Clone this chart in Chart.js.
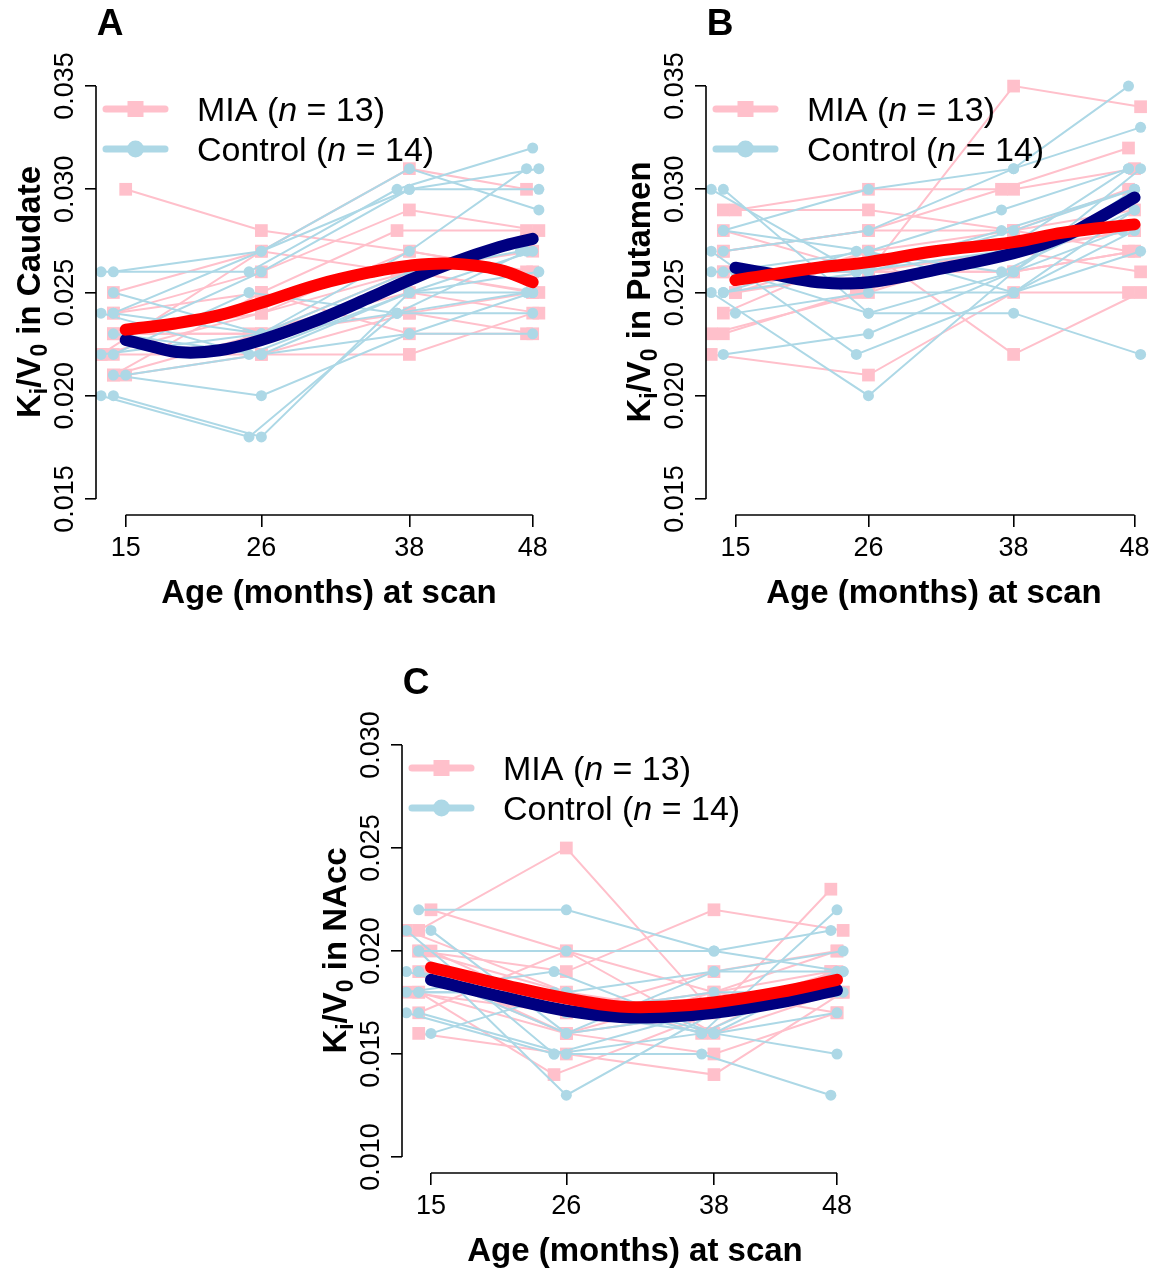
<!DOCTYPE html>
<html><head><meta charset="utf-8">
<script src="https://cdn.jsdelivr.net/npm/chart.js@4.4.1/dist/chart.umd.min.js"></script>
<style>
html,body{margin:0;padding:0;background:#fff;}
body{width:1171px;height:1273px;position:relative;overflow:hidden;}
canvas{position:absolute;}
</style></head><body>
<canvas id="cA" width="585" height="625" style="left:0;top:0;width:585px;height:625px"></canvas>
<canvas id="cB" width="561" height="625" style="left:610px;top:0;width:561px;height:625px"></canvas>
<canvas id="cC" width="585" height="613" style="left:306px;top:660px;width:585px;height:613px"></canvas>
<script>
// ---------- DATA ----------
const xTicks = [15, 26, 38, 48];
const yTicksAB = [0.015, 0.020, 0.025, 0.030, 0.035];
const yTickLabelsAB = ['0.015', '0.020', '0.025', '0.030', '0.035'];
const yTicksC = [0.010, 0.015, 0.020, 0.025, 0.030];
const yTickLabelsC = ['0.010', '0.015', '0.020', '0.025', '0.030'];
const legendMIA = ['MIA (', 'n', ' = 13)'];
const legendControl = ['Control (', 'n', ' = 14)'];
const xTitle = 'Age (months) at scan';

// ages (months) at each of the four scans, per subject
const agesMIA = [
  [15, 26, 38, 48], [14, 26, 38, 47.5], [14, 26, 38, 48.5], [14, 26, 37, 47.5],
  [15, 26, 38, 48], [14, 25, 38, 48.5], [13, 26, 38, 47.5], [14, 26, 38, 48],
  [14, 26, 38, 48.5], [15, 26, 38, 48], [14, 26, 38, 47.5], [13, 26, 37, 48],
  [14, 26, 38, 48]
];
const agesControl = [
  [14, 26, 38, 48.5], [13, 25, 37, 48], [14, 26, 38, 47.5], [14, 26, 38, 48.5],
  [13, 25, 38, 48], [14, 26, 37, 47.5], [15, 26, 38, 48.5], [14, 26, 38, 48],
  [13, 26, 38, 47], [14, 25, 37, 48], [15, 26, 38, 48.5], [14, 26, 38, 48],
  [13, 25, 37, 47.5], [14, 26, 38, 48]
];

// A: Caudate
const caudateMIA = [
  [0.030, 0.028, 0.027, 0.026], [0.025, 0.027, 0.031, 0.030], [0.024, 0.026, 0.029, 0.028],
  [0.024, 0.025, 0.028, 0.028], [0.023, 0.024, 0.026, 0.025], [0.023, 0.023, 0.025, 0.024],
  [0.022, 0.024, 0.027, 0.026], [0.022, 0.022, 0.024, 0.023], [0.021, 0.023, 0.026, 0.025],
  [0.021, 0.022, 0.022, 0.024], [0.021, 0.025, 0.023, 0.023], [0.022, 0.027, 0.026, 0.027],
  [0.023, 0.023, 0.024, 0.025]
];
const caudateControl = [
  [0.026, 0.027, 0.031, 0.029], [0.026, 0.026, 0.030, 0.032], [0.025, 0.023, 0.027, 0.031],
  [0.024, 0.027, 0.030, 0.031], [0.024, 0.022, 0.025, 0.027], [0.024, 0.023, 0.024, 0.025],
  [0.023, 0.026, 0.030, 0.030], [0.023, 0.022, 0.023, 0.025], [0.022, 0.023, 0.026, 0.027],
  [0.022, 0.025, 0.024, 0.024], [0.021, 0.022, 0.025, 0.026], [0.021, 0.020, 0.023, 0.023],
  [0.020, 0.018, 0.024, 0.027], [0.020, 0.018, 0.025, 0.025]
];
const caudateFitAgesMIA = [15, 19, 22.6, 26, 30.7, 35, 38, 41.3, 45.3, 48];
const caudateFitMIA = [0.0232, 0.0235, 0.0239, 0.0245, 0.0254, 0.0260, 0.0263, 0.0264, 0.0261, 0.0255];
const caudateFitAgesControl = [15, 17, 19.5, 22.6, 26, 30.7, 35, 38, 41.3, 45.3, 48];
const caudateFitControl = [0.0227, 0.0224, 0.0221, 0.0222, 0.0227, 0.0237, 0.0248, 0.0256, 0.0264, 0.0272, 0.0276];

// B: Putamen
const putamenMIA = [
  [0.029, 0.030, 0.030, 0.031], [0.029, 0.029, 0.028, 0.030], [0.028, 0.026, 0.035, 0.034],
  [0.027, 0.028, 0.030, 0.032], [0.025, 0.027, 0.028, 0.029], [0.023, 0.025, 0.027, 0.026],
  [0.022, 0.021, 0.025, 0.025], [0.026, 0.026, 0.027, 0.028], [0.024, 0.027, 0.022, 0.025],
  [0.025, 0.026, 0.026, 0.027], [0.027, 0.028, 0.028, 0.027], [0.023, 0.025, 0.027, 0.028],
  [0.026, 0.026, 0.026, 0.027]
];
const putamenControl = [
  [0.030, 0.024, 0.026, 0.031], [0.030, 0.026, 0.028, 0.030], [0.028, 0.030, 0.031, 0.035],
  [0.027, 0.028, 0.031, 0.033], [0.027, 0.022, 0.025, 0.029], [0.026, 0.027, 0.029, 0.031],
  [0.026, 0.024, 0.024, 0.022], [0.025, 0.026, 0.028, 0.030], [0.025, 0.020, 0.026, 0.028],
  [0.025, 0.027, 0.026, 0.029], [0.024, 0.025, 0.025, 0.027], [0.022, 0.023, 0.026, 0.030],
  [0.026, 0.026, 0.027, 0.031], [0.028, 0.027, 0.025, 0.028]
];
const putamenFitAgesMIA = [15, 21.8, 26, 31.5, 38, 42.1, 48];
const putamenFitMIA = [0.0256, 0.0262, 0.02647, 0.0270, 0.02744, 0.0279, 0.0283];
const putamenFitAgesControl = [15, 18, 21.8, 26, 31.5, 38, 42.1, 45, 48];
const putamenFitControl = [0.0262, 0.0259, 0.0255, 0.0255, 0.0261, 0.0269, 0.0277, 0.0286, 0.0296];

// C: NAcc
const naccMIA = [
  [0.022, 0.020, 0.018, 0.020], [0.021, 0.025, 0.017, 0.023], [0.020, 0.019, 0.022, 0.021],
  [0.020, 0.018, 0.016, 0.019], [0.019, 0.016, 0.015, 0.017], [0.018, 0.014, 0.017, 0.018],
  [0.018, 0.017, 0.018, 0.019], [0.017, 0.020, 0.016, 0.018], [0.016, 0.015, 0.014, 0.018],
  [0.020, 0.017, 0.019, 0.020], [0.019, 0.016, 0.017, 0.018], [0.021, 0.018, 0.017, 0.019],
  [0.018, 0.016, 0.018, 0.017]
];
const naccControl = [
  [0.022, 0.022, 0.020, 0.019], [0.021, 0.015, 0.016, 0.022], [0.020, 0.020, 0.020, 0.021],
  [0.019, 0.016, 0.019, 0.020], [0.018, 0.019, 0.016, 0.015], [0.017, 0.015, 0.015, 0.013],
  [0.016, 0.018, 0.019, 0.019], [0.020, 0.013, 0.017, 0.018], [0.019, 0.017, 0.018, 0.018],
  [0.018, 0.018, 0.016, 0.019], [0.021, 0.016, 0.017, 0.018], [0.019, 0.017, 0.016, 0.017],
  [0.017, 0.015, 0.017, 0.018], [0.018, 0.018, 0.016, 0.019]
];
const naccFitAges = [15, 21.3, 26, 30.4, 34, 38, 43.3, 48];
const naccFitMIA = [0.0192, 0.0183, 0.0177, 0.0173, 0.0173, 0.0175, 0.0180, 0.0186];
const naccFitControl = [0.0186, 0.0177, 0.0171, 0.0168, 0.0168, 0.0170, 0.0175, 0.0181];

// ---------- STYLE ----------
const PINK = '#FFC0CB', LIGHTBLUE = '#ADD8E6', RED = '#FF0000', NAVY = '#000080';
const FONT = "'Liberation Sans', Arial, Helvetica, sans-serif";

function subjectSets(ages, values, color, style, radius) {
  return values.map((v, i) => ({
    data: v.map((y, j) => ({ x: ages[i][j], y: y })),
    showLine: true, borderColor: color, borderWidth: 2, backgroundColor: color,
    pointBackgroundColor: color, pointBorderWidth: 0, pointRadius: radius,
    pointHoverRadius: radius, pointStyle: style
  }));
}
function fitSet(ages, values, color) {
  return {
    data: ages.map((x, i) => ({ x: x, y: values[i] })),
    showLine: true, borderColor: color, borderWidth: 12, pointRadius: 0, pointHoverRadius: 0,
    tension: 0.4, borderCapStyle: 'round', borderJoinStyle: 'round'
  };
}

function drawRich(ctx, parts, x, y, rotate) {
  ctx.save();
  ctx.translate(x, y);
  if (rotate) ctx.rotate(-Math.PI / 2);
  let total = 0;
  parts.forEach(p => { ctx.font = p.font; p.w = ctx.measureText(p.t).width; total += p.w; });
  let cx = -total / 2;
  ctx.textAlign = 'left'; ctx.textBaseline = 'alphabetic';
  parts.forEach(p => { ctx.font = p.font; ctx.fillText(p.t, cx, p.dy || 0); cx += p.w; });
  ctx.restore();
}

const rStyle = {
  id: 'rstyle',
  afterDraw(chart, args, o) {
    const ctx = chart.ctx, ca = chart.chartArea, xs = chart.scales.x, ys = chart.scales.y;
    ctx.save();
    ctx.strokeStyle = '#000'; ctx.fillStyle = '#000'; ctx.lineWidth = 1.6; ctx.lineCap = 'butt';
    ctx.beginPath();
    ctx.moveTo(xs.getPixelForValue(o.xTicks[0]), ca.bottom);
    ctx.lineTo(xs.getPixelForValue(o.xTicks[o.xTicks.length - 1]), ca.bottom);
    ctx.stroke();
    ctx.beginPath();
    ctx.moveTo(ca.left, ys.getPixelForValue(o.yTicks[0]));
    ctx.lineTo(ca.left, ys.getPixelForValue(o.yTicks[o.yTicks.length - 1]));
    ctx.stroke();
    // y tick labels (rotated)
    ctx.font = '27px ' + FONT; ctx.textAlign = 'center'; ctx.textBaseline = 'alphabetic';
    o.yTicks.forEach((v, i) => {
      const py = ys.getPixelForValue(v);
      ctx.save(); ctx.translate(ca.left - 33, py); ctx.rotate(-Math.PI / 2);
      ctx.fillText(o.yLabels[i], 0, 0.358 * 27); ctx.restore();
    });
    // y title with subscripts
    const B = 'bold 33px ' + FONT, S = 'bold 23px ' + FONT;
    drawRich(ctx, [
      { t: 'K', font: B, dy: 11.8 }, { t: 'i', font: S, dy: 19 },
      { t: '/V', font: B, dy: 11.8 }, { t: '0', font: S, dy: 19 },
      { t: ' in ' + o.region, font: B, dy: 11.8 }
    ], ca.left - 68, (ca.top + ca.bottom) / 2, true);
    // legend
    const rows = [
      { y: ca.top + 40, c: PINK, txt: legendMIA, m: 'sq' },
      { y: ca.top + 80, c: LIGHTBLUE, txt: legendControl, m: 'ci' }
    ];
    rows.forEach(r => {
      ctx.strokeStyle = r.c; ctx.fillStyle = r.c; ctx.lineWidth = 7; ctx.lineCap = 'round';
      ctx.beginPath(); ctx.moveTo(ca.left + 10, r.y); ctx.lineTo(ca.left + 69, r.y); ctx.stroke();
      const mx = ca.left + 39.5;
      if (r.m === 'sq') ctx.fillRect(mx - 8, r.y - 8, 16, 16);
      else { ctx.beginPath(); ctx.arc(mx, r.y, 8.5, 0, Math.PI * 2); ctx.fill(); }
      ctx.fillStyle = '#000';
      const N = '34px ' + FONT, I = 'italic 34px ' + FONT;
      let tx = ca.left + 101;
      ctx.textAlign = 'left'; ctx.textBaseline = 'alphabetic';
      [[r.txt[0], N], [r.txt[1], I], [r.txt[2], N]].forEach(s => {
        ctx.font = s[1]; ctx.fillText(s[0], tx, r.y + 12); tx += ctx.measureText(s[0]).width;
      });
    });
    // panel letter
    ctx.fillStyle = '#000'; ctx.font = 'bold 37px ' + FONT; ctx.textAlign = 'center';
    ctx.fillText(o.letter, ca.left + 14, ca.top - 47 + 13);
    ctx.restore();
  }
};

function makePanel(id, p) {
  const datasets = [
    fitSet(p.fitAgesMIA, p.fitMIA, RED),
    fitSet(p.fitAgesControl, p.fitControl, NAVY)
  ].concat(subjectSets(agesControl, p.control, LIGHTBLUE, 'circle', 5.5))
   .concat(subjectSets(agesMIA, p.mia, PINK, 'rect', 9));
  new Chart(document.getElementById(id), {
    type: 'scatter',
    data: { datasets: datasets },
    options: {
      responsive: false, animation: false, devicePixelRatio: 1,
      layout: { padding: { top: p.padTop, right: p.padRight, left: 0, bottom: 0 } },
      events: [],
      plugins: {
        legend: { display: false }, tooltip: { enabled: false },
        rstyle: { xTicks: xTicks, yTicks: p.yTicks, yLabels: p.yLabels, region: p.region, letter: p.letter }
      },
      scales: {
        x: {
          type: 'linear', min: p.xmin, max: p.xmax,
          afterFit: s => { s.height = p.xH; },
          afterBuildTicks: s => { s.ticks = xTicks.map(v => ({ value: v })); },
          grid: { drawOnChartArea: false, drawTicks: true, tickLength: 12, color: '#000', lineWidth: 1.6 },
          border: { display: false },
          ticks: { autoSkip: false, maxRotation: 0, color: '#000', padding: 5, font: { family: FONT, size: 27 } },
          title: { display: true, text: xTitle, color: '#000', font: { family: FONT, size: 33, weight: 'bold' }, padding: { top: 0, bottom: p.titlePad } }
        },
        y: {
          type: 'linear', min: p.ymin, max: p.ymax,
          afterFit: s => { s.width = 96; },
          afterBuildTicks: s => { s.ticks = p.yTicks.map(v => ({ value: v })); },
          grid: { drawOnChartArea: false, drawTicks: true, tickLength: 11, color: '#000', lineWidth: 1.6 },
          border: { display: false },
          ticks: { display: false }
        }
      }
    },
    plugins: [rStyle]
  });
}

makePanel('cA', {
  letter: 'A', region: 'Caudate', mia: caudateMIA, control: caudateControl,
  fitAgesMIA: caudateFitAgesMIA, fitMIA: caudateFitMIA,
  fitAgesControl: caudateFitAgesControl, fitControl: caudateFitControl,
  yTicks: yTicksAB, yLabels: yTickLabelsAB,
  xmin: 12.592, xmax: 50.376, ymin: 0.01422, ymax: 0.035828,
  padTop: 69, padRight: 23, xH: 110, titlePad: 11
});
makePanel('cB', {
  letter: 'B', region: 'Putamen', mia: putamenMIA, control: putamenControl,
  fitAgesMIA: putamenFitAgesMIA, fitMIA: putamenFitMIA,
  fitAgesControl: putamenFitAgesControl, fitControl: putamenFitControl,
  yTicks: yTicksAB, yLabels: yTickLabelsAB,
  xmin: 12.567, xmax: 50.27, ymin: 0.01422, ymax: 0.035828,
  padTop: 69, padRight: 0, xH: 110, titlePad: 11
});
makePanel('cC', {
  letter: 'C', region: 'NAcc', mia: naccMIA, control: naccControl,
  fitAgesMIA: naccFitAges, fitMIA: naccFitMIA,
  fitAgesControl: naccFitAges, fitControl: naccFitControl,
  yTicks: yTicksC, yLabels: yTickLabelsC,
  xmin: 12.643, xmax: 50.52, ymin: 0.009223, ymax: 0.030825,
  padTop: 68, padRight: 23, xH: 100, titlePad: 1
});
</script>
</body></html>
